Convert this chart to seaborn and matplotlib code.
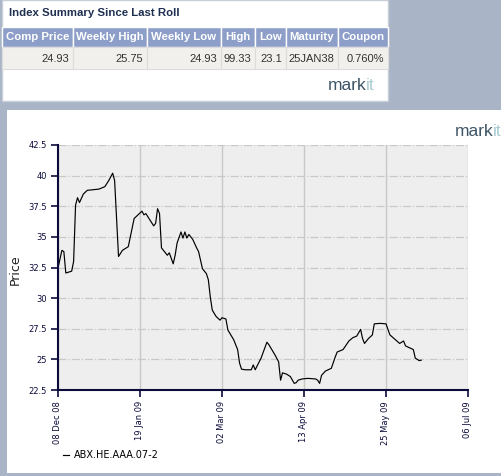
import pandas as pd
import matplotlib.pyplot as plt
import matplotlib.dates as mdates
from matplotlib.patches import Rectangle
from matplotlib.ticker import FuncFormatter
import seaborn as sns

# summary table above the chart
headers = ['Comp Price', 'Weekly High', 'Weekly Low', 'High', 'Low', 'Maturity', 'Coupon']
summary = ['24.93', '25.75', '24.93', '99.33', '23.1', '25JAN38', '0.760%']

# price history
dates = ['2008-12-08', '2008-12-10', '2008-12-11', '2008-12-12', '2008-12-15', '2008-12-16',
         '2008-12-17', '2008-12-18', '2008-12-19', '2008-12-21', '2008-12-23', '2008-12-29',
         '2009-01-01', '2009-01-03', '2009-01-05', '2009-01-06', '2009-01-08', '2009-01-10',
         '2009-01-13', '2009-01-16', '2009-01-20', '2009-01-21', '2009-01-22', '2009-01-24',
         '2009-01-26', '2009-01-27', '2009-01-28', '2009-01-29', '2009-01-30', '2009-02-02',
         '2009-02-03', '2009-02-05', '2009-02-06', '2009-02-07', '2009-02-09', '2009-02-10',
         '2009-02-11', '2009-02-12', '2009-02-13', '2009-02-15', '2009-02-17', '2009-02-18',
         '2009-02-20', '2009-02-22', '2009-02-23', '2009-02-24', '2009-02-25', '2009-02-26',
         '2009-02-27', '2009-03-01', '2009-03-02', '2009-03-04', '2009-03-05', '2009-03-08',
         '2009-03-10', '2009-03-11', '2009-03-12', '2009-03-14', '2009-03-17', '2009-03-18',
         '2009-03-19', '2009-03-22', '2009-03-25', '2009-03-26', '2009-03-29', '2009-03-31',
         '2009-04-01', '2009-04-02', '2009-04-04', '2009-04-06', '2009-04-08', '2009-04-09',
         '2009-04-10', '2009-04-12', '2009-04-15', '2009-04-19', '2009-04-20', '2009-04-21',
         '2009-04-22', '2009-04-24', '2009-04-27', '2009-04-29', '2009-04-30', '2009-05-03',
         '2009-05-06', '2009-05-08', '2009-05-10', '2009-05-12', '2009-05-13', '2009-05-14',
         '2009-05-16', '2009-05-18', '2009-05-19', '2009-05-22', '2009-05-25', '2009-05-27',
         '2009-05-31', '2009-06-01', '2009-06-03', '2009-06-04', '2009-06-08', '2009-06-09',
         '2009-06-11', '2009-06-12']
prices = [32.46, 33.9, 33.8, 32.05, 32.2, 33.0,
          37.6, 38.2, 37.8, 38.5, 38.8, 38.9,
          39.1, 39.6, 40.2, 39.6, 33.4, 33.9,
          34.2, 36.5, 37.1, 36.8, 36.9, 36.4,
          35.9, 36.1, 37.3, 36.9, 34.1, 33.5,
          33.7, 32.8, 33.5, 34.5, 35.4, 34.9,
          35.4, 34.9, 35.2, 34.8, 34.1, 33.8,
          32.4, 32.0, 31.5, 30.1, 29.03, 28.76,
          28.5, 28.2, 28.4, 28.3, 27.4, 26.6,
          25.8, 24.7, 24.2, 24.15, 24.15, 24.55,
          24.15, 25.1, 26.4, 26.2, 25.4, 24.8,
          23.3, 23.9, 23.8, 23.6, 23.04, 23.1,
          23.3, 23.4, 23.45, 23.4, 23.3, 23.04,
          23.7, 24.05, 24.27, 25.2, 25.6, 25.8,
          26.5, 26.77, 26.9, 27.45, 26.7, 26.3,
          26.7, 26.99, 27.9, 27.94, 27.9, 27.0,
          26.44, 26.3, 26.5, 26.1, 25.8, 25.1,
          24.9, 24.93]
series_name = 'ABX.HE.AAA.07-2'
tick_dates = ['2008-12-08', '2009-01-19', '2009-03-02', '2009-04-13', '2009-05-25', '2009-07-06']
y_ticks = [22.5, 25, 27.5, 30, 32.5, 35, 37.5, 40, 42.5]

df = pd.DataFrame({'date': pd.to_datetime(dates), 'price': prices})

W, H = 502, 476
fig = plt.figure(figsize=(W / 100, H / 100), dpi=100)
fig.patch.set_facecolor('#a9b5c6')


def box(x0, y0, x1, y1, color, ec='none', lw=0):
    fig.patches.append(Rectangle((x0 / W, 1 - y1 / H), (x1 - x0) / W, (y1 - y0) / H,
                                 transform=fig.transFigure, facecolor=color,
                                 edgecolor=ec, linewidth=lw, zorder=-2))


def txt(x, y, s, **kw):
    fig.text(x / W, 1 - y / H, s, **kw)


def logo(x, y):
    t = fig.text(x / W, 1 - y / H, 'mark', fontsize=12.5, color='#3d5566',
                 family='Liberation Sans', va='center', ha='left')
    fig.canvas.draw()
    bb = t.get_window_extent()
    fig.text((bb.x1 - 0.5) / W, 1 - y / H, 'it', fontsize=12.5, color='#a9cdd3',
             family='Liberation Sans', va='center', ha='left')


# top panel with summary table
box(2, 0, 388, 101, 'white', ec='#c8ced8', lw=1)
txt(9, 13, 'Index Summary Since Last Roll', fontsize=8.2, fontweight='bold',
    color='#1f3050', va='center', family='Liberation Sans')
edges = [2, 73, 147, 221, 255, 286, 338, 388]
for i, (h, v) in enumerate(zip(headers, summary)):
    x0, x1 = edges[i], edges[i + 1]
    box(x0, 27, x1, 47, '#8d9fc9', ec='white', lw=1)
    box(x0, 47, x1, 69, '#f1f0ec', ec='#dcdcdc', lw=0.8)
    txt((x0 + x1) / 2, 37, h, fontsize=8.2, fontweight='bold', color='white',
        ha='center', va='center', family='Liberation Sans')
    txt(x1 - 4, 58.5, v, fontsize=8, color='#333333', ha='right', va='center',
        family='Liberation Sans')
logo(328, 85)

# bottom panel with chart
box(7, 110, 502, 473, 'white')
logo(455, 132)

ax = fig.add_axes([58 / W, 1 - 390 / H, 410 / W, 245 / H])
sns.lineplot(data=df, x='date', y='price', ax=ax, color='black', linewidth=0.85,
             label=series_name)
ax.set_facecolor('#eeeeee')
ax.set_xlim(pd.Timestamp(tick_dates[0]), pd.Timestamp(tick_dates[-1]))
ax.set_ylim(22.5, 42.5)
ax.set_xticks(pd.to_datetime(tick_dates))
ax.xaxis.set_major_formatter(mdates.DateFormatter('%d %b %y'))
ax.set_yticks(y_ticks)
ax.yaxis.set_major_formatter(FuncFormatter(lambda v, p: '%g' % v))
ax.grid(axis='x', color='#c8c8c8', linestyle='-', linewidth=1)
ax.grid(axis='y', color='#c8c8c8', linestyle='-.', linewidth=0.9)
ax.set_axisbelow(True)
navy = '#0b0b3b'
for s in ['top', 'right']:
    ax.spines[s].set_visible(False)
for s in ['left', 'bottom']:
    ax.spines[s].set_color(navy)
    ax.spines[s].set_linewidth(1.5)
ax.tick_params(axis='both', colors=navy, labelsize=6, length=5, width=1.2, pad=3)
ax.tick_params(axis='x', labelrotation=90)
ax.set_xlabel('')
ax.set_ylabel('Price', fontsize=9, color='#222222')
ax.yaxis.set_label_coords(-0.088, 0.49)
ax.legend(loc='upper left', bbox_to_anchor=(0.117, 0.062), bbox_transform=fig.transFigure,
          frameon=False, fontsize=7, handlelength=0.7, handletextpad=0.5,
          borderaxespad=0)

fig.savefig('out.png', dpi=100, facecolor=fig.get_facecolor())
